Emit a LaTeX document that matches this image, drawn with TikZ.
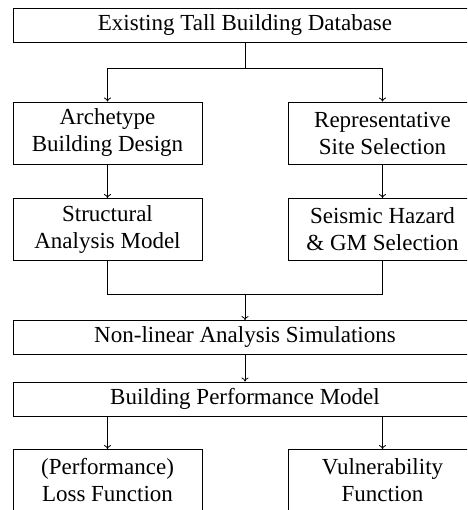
\documentclass[tikz,border=0pt]{standalone}
\usepackage{fontspec}
\setmainfont{Liberation Serif}
\usetikzlibrary{arrows.meta}
\begin{document}
\begin{tikzpicture}[x=1pt,y=-1pt,
  box/.style={draw, line width=0.8pt, inner sep=0pt, font=\fontsize{23}{27}\selectfont, align=center},
  wide/.style={box, minimum width=464pt, minimum height=34pt},
  half/.style={box, minimum width=189pt, minimum height=62pt},
  conn/.style={line width=0.8pt},
  arr/.style={conn, -{To[length=4pt,width=7pt]}}]
\useasboundingbox (0,0) rectangle (467,510);
\clip (0,0) rectangle (467,510);
\node[wide] (db) at (245,25) {Existing Tall Building Database};
\node[half] (a) at (107.5,133) {Archetype\\Building Design};
\node[half] (r) at (382.5,133) {Representative\\Site Selection};
\node[half] (s) at (107.5,229.5) {Structural\\Analysis Model};
\node[half] (h) at (382.5,229.5) {Seismic Hazard\\\& GM Selection};
\node[wide] (nla) at (245,337.5) {Non-linear Analysis Simulations};
\node[wide] (bpm) at (245,399) {Building Performance Model};
\node[half] (l) at (107.5,480.5) {(Performance)\\Loss Function};
\node[half] (v) at (382.5,480.5) {Vulnerability\\Function};
\coordinate (j1) at (245,68);
\coordinate (j2) at (245,294);
\draw[conn] (db.south) -- (j1);
\draw[arr] (j1) -| (a.north);
\draw[arr] (j1) -| (r.north);
\draw[arr] (a.south) -- (s.north);
\draw[arr] (r.south) -- (h.north);
\draw[conn] (s.south) |- (j2);
\draw[conn] (h.south) |- (j2);
\draw[arr] (j2) -- (nla.north);
\draw[arr] (nla.south) -- (bpm.north);
\draw[arr] (bpm.south -| l.north) -- (l.north);
\draw[arr] (bpm.south -| v.north) -- (v.north);
\end{tikzpicture}
\end{document}
